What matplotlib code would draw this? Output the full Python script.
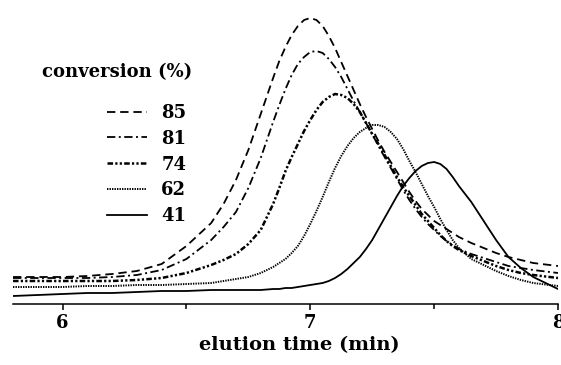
import matplotlib
matplotlib.use("Agg")
import matplotlib.pyplot as plt

plt.rcParams['font.family'] = ['DejaVu Serif']
plt.rcParams['font.weight'] = 'bold'
plt.rcParams['lines.scale_dashes'] = False

time = [5.8, 5.9, 6.0, 6.1, 6.2, 6.3, 6.4, 6.5, 6.6,
        6.65, 6.7, 6.75, 6.8, 6.85,
        6.875, 6.9, 6.925, 6.95, 6.975, 7.0, 7.025, 7.05, 7.075, 7.1,
        7.125, 7.15, 7.175, 7.2, 7.225, 7.25, 7.275, 7.3, 7.325, 7.35,
        7.375, 7.4, 7.425, 7.45, 7.475, 7.5, 7.525, 7.55, 7.575, 7.6,
        7.65, 7.7, 7.75, 7.8, 7.85, 7.9, 8.0]

conv_85 = [27, 27, 27, 28, 30, 33, 40, 58, 81,
           100, 124, 154, 190, 226,
           243, 257, 269, 278, 284, 286, 284, 278, 268, 256,
           242, 228, 214, 200, 187, 175, 163, 152, 142, 132,
           122, 112, 103, 95, 89, 83, 79, 75, 71, 67,
           61, 56, 51, 47, 44, 41, 38]
conv_81 = [26, 26, 26, 26, 27, 29, 34, 45, 64,
           77, 92, 116, 146, 182,
           199, 215, 229, 240, 247, 252, 253, 251, 245, 237,
           227, 215, 203, 192, 181, 170, 158, 147, 136, 125,
           114, 104, 95, 87, 80, 74, 68, 63, 59, 55,
           50, 46, 42, 38, 36, 34, 31]
conv_74 = [23, 23, 23, 23, 23, 24, 26, 31, 39,
           44, 50, 60, 74, 100,
           116, 133, 147, 160, 173, 184, 194, 202, 207, 210,
           209, 206, 200, 192, 181, 170, 160, 149, 138, 127,
           117, 108, 99, 90, 83, 76, 69, 63, 58, 54,
           48, 43, 38, 34, 31, 29, 26]
conv_62 = [17, 17, 17, 18, 18, 19, 19, 20, 21,
           23, 25, 27, 31, 37,
           41, 45, 51, 58, 68, 80, 93, 107, 122, 136,
           148, 158, 166, 172, 176, 179, 179, 177, 172, 165,
           155, 143, 132, 120, 108, 97, 85, 74, 64, 56,
           45, 39, 33, 28, 24, 21, 18]
conv_41 = [8, 9, 10, 11, 11, 12, 13, 13, 14,
           14, 14, 14, 14, 15,
           15, 16, 16, 17, 18, 19, 20, 21, 23, 26,
           30, 35, 41, 47, 55, 64, 75, 86, 97, 108,
           118, 126, 133, 138, 141, 142, 140, 135, 127, 118,
           102, 83, 64, 47, 36, 27, 15]

labels = ['85', '81', '74', '62', '41']
series = [conv_85, conv_81, conv_74, conv_62, conv_41]
styles = [(0, (6, 3.5)),
          (0, (6, 2.5, 1.4, 2.5)),
          (0, (4, 1.6, 1.6, 1.6, 1.6, 1.6)),
          (0, (1, 0.8)),
          '-']
widths = [1.3, 1.3, 1.8, 1.4, 1.3]

fig = plt.figure(figsize=(5.61, 3.65), dpi=100)
ax = fig.add_axes([13/561, 61/365, 545/561, 300/365])

for y, lab, ls, lw in zip(series, labels, styles, widths):
    ax.plot(time, y, color='black', linestyle=ls, linewidth=lw, label=lab)

ax.set_xlim(5.8, 8.0)
ax.set_ylim(0, 300)
for s in ['left', 'right', 'top']:
    ax.spines[s].set_visible(False)
ax.spines['bottom'].set_linewidth(1.1)
ax.set_yticks([])
ax.set_xticks([6, 7, 8])
ax.set_xticks([6.5, 7.5], minor=True)
ax.tick_params(axis='x', which='major', direction='out', length=4.5, width=1.1,
               labelsize=13, pad=3)
ax.tick_params(axis='x', which='minor', direction='out', length=3.5, width=1.1)
ax.set_xlabel('elution time (min)', fontsize=14, fontweight='bold')
ax.xaxis.set_label_coords((299 - 13) / 545, -(345 - 304) / 300, transform=ax.transAxes)
ax.xaxis.label.set_va('center')

fig.text(42/561, 1 - 72/365, 'conversion (%)', fontsize=13, fontweight='bold',
         ha='left', va='center')
leg = ax.legend(loc='upper left', bbox_to_anchor=(107/561, 1 - 104/365),
                bbox_transform=fig.transFigure, frameon=False, fontsize=13,
                handlelength=2.2, handletextpad=0.8, labelspacing=0.43,
                borderpad=0, borderaxespad=0)

fig.savefig('out.png', dpi=100)
